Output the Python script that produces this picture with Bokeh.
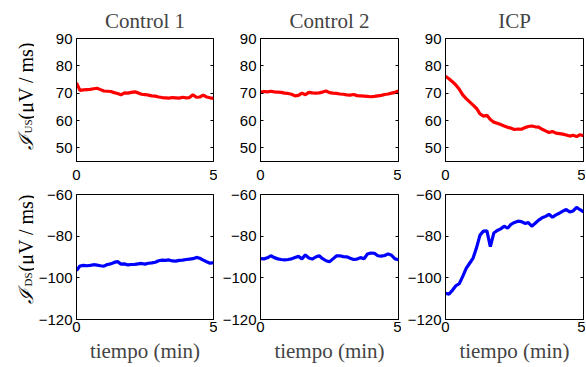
import math
from bokeh.plotting import figure
from bokeh.layouts import row, column
from bokeh.models import Range1d, FixedTicker, Label, LinearAxis
from bokeh.embed import file_html
from bokeh.resources import INLINE

# ---------------- data ----------------
t = [0.0, 0.125, 0.25, 0.375, 0.5, 0.625, 0.75, 0.875, 1.0, 1.125, 1.25, 1.375,
     1.5, 1.625, 1.75, 1.875, 2.0, 2.125, 2.25, 2.375, 2.5, 2.625, 2.75, 2.875,
     3.0, 3.125, 3.25, 3.375, 3.5, 3.625, 3.75, 3.875, 4.0, 4.125, 4.25, 4.375,
     4.5, 4.625, 4.75, 4.875, 5.0]

us_control1 = [73.8, 71.0, 71.2, 71.3, 71.4, 71.6, 71.8, 71.3, 70.8, 70.7, 70.6, 70.2,
               69.9, 69.4, 70.1, 70.0, 70.3, 70.5, 70.1, 69.6, 69.5, 69.3, 69.0, 68.9,
               68.6, 68.4, 68.3, 68.2, 68.4, 68.3, 68.2, 68.5, 68.3, 68.4, 69.4, 68.5,
               68.6, 69.3, 68.6, 68.3, 68.1]
us_control2 = [70.4, 70.6, 70.5, 70.7, 70.5, 70.4, 70.3, 70.0, 69.9, 69.6, 69.0, 69.2,
               70.0, 69.4, 70.3, 70.1, 70.0, 70.1, 70.4, 70.8, 70.2, 70.0, 69.9, 69.7,
               69.6, 69.4, 69.3, 69.5, 69.1, 69.0, 68.9, 68.8, 68.7, 68.8, 69.0, 69.2,
               69.5, 69.7, 70.0, 70.3, 70.8]
us_icp = [76.2, 75.3, 74.2, 73.0, 71.4, 69.4, 68.0, 66.8, 65.6, 64.4, 62.4, 61.6,
          61.9, 60.4, 59.4, 59.0, 58.5, 58.0, 57.5, 57.2, 56.7, 56.9, 56.8, 57.4,
          57.8, 58.0, 57.7, 57.6, 56.8, 56.2, 55.6, 56.0, 55.4, 55.2, 55.0, 54.7,
          54.3, 54.6, 54.1, 54.8, 54.4]
ds_control1 = [-96.5, -94.3, -94.0, -94.2, -94.0, -93.7, -93.9, -94.2, -94.4, -93.6, -93.3, -92.6,
               -92.2, -93.4, -93.3, -93.8, -93.6, -93.5, -93.3, -93.1, -93.4, -93.0, -92.8, -92.5,
               -91.8, -91.5, -91.6, -91.4, -91.9, -92.0, -91.6, -91.5, -91.2, -91.0, -90.8, -90.2,
               -90.6, -91.5, -92.3, -93.0, -92.7]
ds_control2 = [-90.8, -90.9, -90.4, -89.4, -90.3, -90.9, -91.2, -91.4, -91.2, -90.9, -90.2, -89.7,
               -90.9, -89.0, -90.5, -91.0, -90.0, -89.4, -90.8, -91.8, -92.3, -90.9, -89.5, -89.4,
               -89.8, -89.9, -90.6, -91.2, -91.0, -90.3, -90.8, -88.6, -88.1, -88.2, -89.4, -89.6,
               -89.3, -88.5, -89.2, -90.9, -91.3]
ds_icp = [-107.4, -107.8, -106.0, -103.8, -102.8, -99.3, -95.5, -93.0, -90.5, -85.5, -79.5, -77.6,
          -77.5, -85.0, -78.5, -77.3, -76.5, -75.2, -76.2, -74.3, -73.4, -72.8, -73.0, -73.9,
          -73.5, -75.2, -73.8, -72.3, -71.2, -70.5, -69.5, -70.9, -69.8, -69.0, -68.0, -67.2,
          -68.4, -67.9, -66.2, -67.3, -68.3]

titles = ["Control 1", "Control 2", "ICP"]
x_ticks = [0, 5]
us_ticks = [50, 60, 70, 80, 90]
us_tick_labels = ["50", "60", "70", "80", "90"]
ds_ticks = [-120, -100, -80, -60]
ds_tick_labels = ["\u2212120", "\u2212100", "\u221280", "\u221260"]
xlabel = "tiempo (min)"
ylabel_sym = "\u2110"
ylabel_subs = ["US", "DS"]
ylabel_unit = "(\u03bcV / ms)"

# ---------------- layout / style ----------------
LAB_W = 34
left_b = [42, 43, 44]
right_b = [4, 3, 2]
frame_w = [137, 138, 138]
SANS = "Liberation Sans"
SERIF = "Liberation Serif"

TOP_B, TOP_F, TOP_BOT = 38, 123, 25
BOT_T, BOT_F, BOT_B = 8, 125, 46


def style_axes(p, ticks, labels, x_standoff):
    p.xaxis.ticker = FixedTicker(ticks=x_ticks)
    p.yaxis.ticker = FixedTicker(ticks=ticks)
    p.yaxis.major_label_overrides = {k: v for k, v in zip(ticks, labels)}
    for ax in (p.xaxis[0], p.yaxis[0]):
        ax.major_tick_in = 3
        ax.major_tick_out = 0
        ax.minor_tick_line_color = None
        ax.axis_line_color = "black"
        ax.major_tick_line_color = "black"
        ax.major_label_text_font = SANS
        ax.major_label_text_font_size = "15px"
        ax.major_label_text_color = "black"
    p.xaxis.major_label_standoff = x_standoff
    p.yaxis.major_label_standoff = 4
    p.xgrid.visible = False
    p.ygrid.visible = False
    p.outline_line_color = "black"
    p.outline_line_alpha = 1
    ra = LinearAxis(ticker=FixedTicker(ticks=ticks), major_tick_in=3, major_tick_out=0,
                    minor_tick_line_color=None, axis_line_color=None,
                    major_label_text_color=None, major_label_text_font_size="0px",
                    major_label_standoff=0)
    p.add_layout(ra, "right")


def label_fig(b_top, f_h, b_bot, sub, y_sym, y_sub, y_unit):
    p = figure(width=LAB_W, frame_height=f_h, x_range=Range1d(0, 1), y_range=Range1d(0, 1),
               output_backend="svg", toolbar_location=None,
               min_border_left=0, min_border_right=0,
               min_border_top=b_top, min_border_bottom=b_bot,
               x_axis_location=None, y_axis_location=None)
    p.outline_line_color = None
    p.grid.visible = False
    common = dict(x_units="screen", y_units="screen", angle=math.pi / 2,
                  text_align="left", text_baseline="alphabetic", text_font=SERIF,
                  text_color="black")
    p.add_layout(Label(x=25, y=y_sym, text=ylabel_sym, text_font_style="italic",
                       text_font_size="20px", **common))
    p.add_layout(Label(x=27.5, y=y_sub, text=sub, text_font_size="11px", **common))
    p.add_layout(Label(x=25, y=y_unit, text=ylabel_unit, text_font_size="20px", **common))
    return p


top_series = [us_control1, us_control2, us_icp]
bot_series = [ds_control1, ds_control2, ds_icp]

top_figs = [label_fig(TOP_B, TOP_F, TOP_BOT, ylabel_subs[0], 12, 28, 42)]
for i in range(3):
    p = figure(frame_width=frame_w[i], frame_height=TOP_F, x_range=Range1d(0, 5),
               y_range=Range1d(45, 90), output_backend="svg", toolbar_location=None,
               min_border_left=left_b[i], min_border_right=right_b[i],
               min_border_top=TOP_B, min_border_bottom=TOP_BOT)
    p.line(t, top_series[i], line_color="#ff0000", line_width=3.2)
    style_axes(p, us_ticks, us_tick_labels, 8)
    p.title.text = titles[i]
    p.title.align = "center"
    p.title.text_font = SERIF
    p.title.text_font_size = "21px"
    p.title.text_font_style = "normal"
    p.title.standoff = 12
    top_figs.append(p)

bot_figs = [label_fig(BOT_T, BOT_F, BOT_B, ylabel_subs[1], 16, 33, 48)]
for i in range(3):
    p = figure(frame_width=frame_w[i], frame_height=BOT_F, x_range=Range1d(0, 5),
               y_range=Range1d(-120, -60), output_backend="svg", toolbar_location=None,
               min_border_left=left_b[i], min_border_right=right_b[i],
               min_border_top=BOT_T, min_border_bottom=BOT_B)
    p.line(t, bot_series[i], line_color="#0000ff", line_width=3.2)
    style_axes(p, ds_ticks, ds_tick_labels, 2)
    p.xaxis.axis_label = xlabel
    p.xaxis.axis_label_text_font = SERIF
    p.xaxis.axis_label_text_font_size = "21px"
    p.xaxis.axis_label_text_font_style = "normal"
    p.xaxis.axis_label_standoff = 4
    bot_figs.append(p)

layout = column(row(*top_figs, spacing=0), row(*bot_figs, spacing=0), spacing=0)
open("out.html", "w").write(file_html(layout, INLINE))
